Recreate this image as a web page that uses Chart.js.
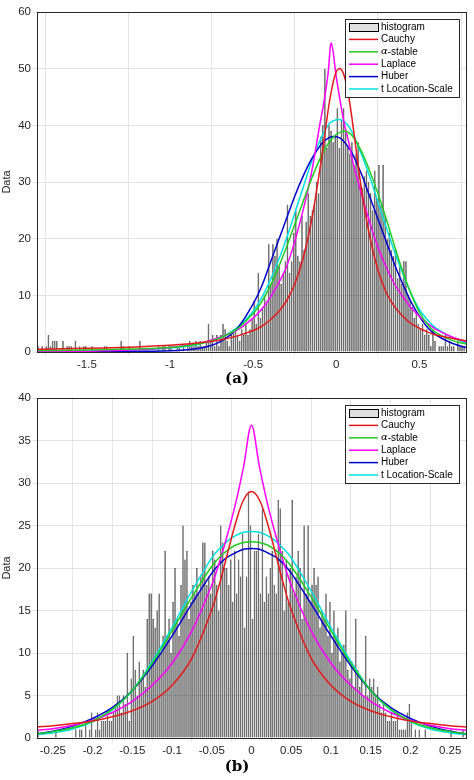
<!DOCTYPE html>
<html>
<head>
<meta charset="utf-8">
<script src="https://cdn.jsdelivr.net/npm/chart.js@4"></script>
<style>
  body { margin: 0; background: #fff; }
  #wrap { position: relative; width: 474px; height: 780px; }
  .pane { position: absolute; left: 0; width: 474px; height: 372px; }
  .cap { position: absolute; left: 0; width: 474px; text-align: center;
         font: bold 15px "DejaVu Serif", "Liberation Serif", serif; }
</style>
</head>
<body>
<div id="wrap">
  <div class="pane" style="top:0"><canvas id="chartA"></canvas></div>
  <div class="cap" style="top:369px">(a)</div>
  <div class="pane" style="top:386px"><canvas id="chartB"></canvas></div>
  <div class="cap" style="top:757px">(b)</div>
</div>
<script>
// ---- panel (a) ----
const binStartA = -1.8;
const binWidthA = 0.0125;
const countsA = [
  1,0,1,0,1,3,1,2,  2,2,0,0,2,0,1,1,  1,0,2,0,1,0,1,1,  0,0,1,0,0,0,0,0,
  1,1,0,0,0,0,0,0,  2,1,0,0,1,0,0,0,  0,2,0,0,0,0,0,0,  0,0,1,0,1,1,0,1,
  1,0,0,1,1,0,1,0,  1,2,1,1,2,1,2,1,  1,2,5,2,3,1,3,1,  3,5,4,2,1,3,4,4,
  3,2,4,3,5,3,4,6,  9,5,14,6,8,10,9,19,  12,19,17,20,15,12,14,16,  26,14,16,21,25,17,16,24,
  18,23,28,24,25,26,30,28,  38,40,50,36,40,39,37,38,  43,36,41,43,39,36,35,37,  33,35,37,30,29,31,32,30,
  28,25,32,27,33,26,33,24,  20,21,18,17,18,13,15,12,  16,16,10,9,8,6,7,5,  4,5,3,4,3,1,4,2,
  0,1,1,1,3,1,2,1,  1,0,2,1,1,1
];
const curveXA = [-1.8,-1.6,-1.4,-1.2,-1.0,-0.9,-0.8,-0.7,-0.6,-0.5,-0.45,-0.4,-0.35,-0.3,-0.25,-0.2,-0.15,-0.1,-0.075,-0.05,-0.03,0,0.025,0.05,0.075,0.1,0.15,0.2,0.25,0.3,0.35,0.4,0.45,0.5,0.55,0.6,0.7,0.78];
const cauchyA = [0.5,0.6,0.7,0.9,1.2,1.4,1.7,2.1,2.8,3.8,4.5,5.6,7.0,9.0,12,16.5,23,32,37,42.5,46,49.5,50,48.5,45,40,29,20.5,14.5,10.5,8,6.3,5,4.2,3.5,3.0,2.4,2.0];
const stableA = [0.25,0.3,0.4,0.55,0.8,1.1,1.6,2.5,4,6.8,8.8,11.5,14.8,18.5,22.5,26.5,30.5,34,35.5,36.7,37.5,38.4,38.8,39,38.7,38,35.5,32,28,23.5,18.7,14.2,10.2,7,4.8,3.4,2,1.4];
const laplaceA = [0.05,0.1,0.2,0.4,0.8,1.2,1.7,2.6,3.8,6,7.5,9.5,12,15,19.5,25,31.5,40,44,49,54.5,48.5,44,40,37,33.5,28,23,18.5,15,12,9.8,7.8,6.3,5,4,2.6,1.8];
const huberA = [0.02,0.03,0.05,0.1,0.2,0.4,0.8,1.8,4,8.5,11.5,15.5,19.5,23.5,27.5,31,34,36.3,37.2,37.7,38,38,37.7,37,36,34.8,31.5,27.5,23.5,19.5,15.5,12,8.8,6.3,4.3,3,1.5,0.8];
const tlsA = [0.1,0.15,0.2,0.35,0.7,1,1.6,2.5,4.2,7.2,9.5,12.5,16,20,24.5,29,33.5,37.2,38.8,40,40.6,41,41,40.6,39.8,38.5,35,31,26.5,22,17.7,13.8,10.3,7.5,5.6,4.2,2.5,1.6];

// ---- panel (b) ----
const binStartB = -0.27;
const binWidthB = 0.0025;
const countsB = [
  1,0,0,0,0,0,0,0,0,1,  0,0,0,0,0,0,0,0,0,1,  0,1,1,0,2,0,1,3,0,1,  3,1,2,2,2,3,2,2,3,4,
  5,5,3,5,4,10,2,7,12,8,  5,9,7,8,6,14,17,17,14,13,  15,17,10,12,22,12,14,10,16,20,  14,12,18,25,21,22,14,16,18,17,
  20,17,19,23,23,18,19,17,22,21,  18,15,25,23,20,20,18,21,16,22,  17,21,19,24,13,19,29,25,14,22,  22,24,17,27,16,19,17,20,22,18,
  17,28,27,22,15,21,16,20,28,17,  19,22,20,14,25,17,25,16,18,20,  18,19,13,15,14,17,12,16,10,15,  12,13,9,10,11,15,8,7,9,6,
  14,8,6,7,5,12,5,7,6,7,  5,6,4,3,4,3,2,2,3,2,  2,3,1,1,1,1,3,4,2,0,  1,0,1,0,0,1,0,0,0,0,
  0,0,0,0,0,0,0,0,1,0,  0,0,0,0,1,0
];
const curveXB = [-0.27,-0.25,-0.225,-0.2,-0.175,-0.15,-0.125,-0.1,-0.075,-0.05,-0.04,-0.03,-0.02,-0.01,0,0.01,0.02,0.03,0.04,0.05,0.075,0.1,0.125,0.15,0.175,0.2,0.225,0.25,0.27];
const cauchyB = [1.3,1.45,1.7,2.0,2.5,3.2,4.3,6.2,9.4,15.1,18.2,21.8,25.3,28,29,28,25.3,21.8,18.2,15.1,9.4,6.2,4.3,3.2,2.5,2.0,1.7,1.45,1.3];
const stableB = [0.5,0.75,1.2,2.0,3.4,5.6,8.8,12.6,16.6,20.2,21.3,22.1,22.7,23,23.1,23,22.7,22.1,21.3,20.2,16.6,12.6,8.8,5.6,3.4,2.0,1.2,0.75,0.5];
const laplaceB = [0.9,1.1,1.5,2.1,3.0,4.3,6.2,8.8,12.6,18,20.8,24,27.6,31.9,36.8,31.9,27.6,24,20.8,18,12.6,8.8,6.2,4.3,3.0,2.1,1.5,1.1,0.9];
const huberB = [0.5,0.8,1.4,2.3,3.6,5.6,8.5,12,15.8,19.4,20.5,21.3,21.8,22.2,22.3,22.2,21.8,21.3,20.5,19.4,15.8,12,8.5,5.6,3.6,2.3,1.4,0.8,0.5];
const tlsB = [0.4,0.6,1.05,1.9,3.3,5.6,9,13,17.3,21.2,22.3,23.2,23.8,24.2,24.3,24.2,23.8,23.2,22.3,21.2,17.3,13,9,5.6,3.3,1.9,1.05,0.6,0.4];

const legendLabels = ['histogram', 'Cauchy', '\u03b1-stable', 'Laplace', 'Huber', 't Location-Scale'];
const curveColors = ['#e31a1c', '#22cc22', '#ff00ff', '#0000cc', '#00e0e0'];
const FONT = '"Liberation Sans", Arial, sans-serif';

const frameLegend = {
  id: 'frameLegend',
  afterDatasetsDraw(chart) {
    const { ctx, chartArea: a } = chart;
    ctx.save();
    ctx.strokeStyle = '#262626';
    ctx.lineWidth = 1;
    ctx.strokeRect(a.left + 0.5, a.top + 0.5, a.right - a.left, a.bottom - a.top);
    // legend box
    const bx = a.right - 121, by = a.top + 7, bw = 114, bh = 78;
    ctx.fillStyle = '#fff';
    ctx.fillRect(bx, by, bw, bh);
    ctx.strokeStyle = '#262626';
    ctx.strokeRect(bx + 0.5, by + 0.5, bw, bh);
    ctx.font = '10px ' + FONT;
    ctx.textBaseline = 'middle';
    legendLabels.forEach((lab, i) => {
      const y = by + 8 + i * 12.4;
      if (i === 0) {
        ctx.fillStyle = '#e0e0e0';
        ctx.fillRect(bx + 4, y - 4, 29, 8);
        ctx.strokeStyle = '#000';
        ctx.strokeRect(bx + 4.5, y - 3.5, 29, 8);
      } else {
        ctx.strokeStyle = curveColors[i - 1];
        ctx.lineWidth = 1.5;
        ctx.beginPath();
        ctx.moveTo(bx + 4, y); ctx.lineTo(bx + 33, y);
        ctx.stroke();
        ctx.lineWidth = 1;
      }
      ctx.fillStyle = '#000';
      if (i === 2) {
        ctx.font = 'italic 10px "DejaVu Serif", serif';
        ctx.fillText('\u03b1', bx + 36, y);
        const w = ctx.measureText('\u03b1').width;
        ctx.font = '10px ' + FONT;
        ctx.fillText('-stable', bx + 36 + w, y);
      } else {
        ctx.fillText(lab, bx + 36, y);
      }
    });
    ctx.restore();
  }
};

function makeChart(id, binStart, binWidth, counts, cx, curves, xr, xStep, yMax, yStep, topPad) {
  const bars = counts.map((c, i) => ({ x: binStart + binWidth * (i + 0.5), y: c }));
  const lines = curves.map((ys, k) => ({
    type: 'line',
    data: ys.map((y, i) => ({ x: cx[i], y: y })),
    borderColor: curveColors[k],
    borderWidth: 1.5,
    pointRadius: 0,
    tension: 0.35,
    order: 1
  }));
  new Chart(document.getElementById(id), {
    type: 'bar',
    data: {
      datasets: [{
        data: bars,
        backgroundColor: '#555555',
        borderColor: '#000',
        borderWidth: 0.4,
        barPercentage: 1,
        categoryPercentage: 0.78,
        grouped: false,
        order: 10
      }].concat(lines)
    },
    options: {
      responsive: true,
      maintainAspectRatio: false,
      animation: false,
      layout: { padding: { left: 0, right: 8, top: topPad, bottom: 0 } },
      plugins: { legend: { display: false }, tooltip: { enabled: false } },
      scales: {
        x: {
          type: 'linear', min: xr[0], max: xr[1], offset: false,
          afterBuildTicks: s => {
            const t = [];
            for (let v = Math.ceil(xr[0] / xStep) * xStep; v <= xr[1] + 1e-9; v += xStep) t.push({ value: +v.toFixed(4) });
            s.ticks = t;
          },
          afterFit: s => { s.height = 20; },
          grid: { color: '#e3e3e3', tickLength: 4 },
          border: { display: false },
          ticks: { color: '#262626', font: { family: FONT, size: 11.5 }, maxRotation: 0, autoSkip: false, padding: 2,
                   callback: v => String(+v.toFixed(3)) }
        },
        y: {
          min: 0, max: yMax,
          afterFit: s => { s.width = 37; },
          grid: { color: '#e3e3e3', tickLength: 4 },
          border: { display: false },
          title: { display: true, text: 'Data', color: '#262626', font: { family: FONT, size: 11 }, padding: 0 },
          ticks: { stepSize: yStep, color: '#262626', font: { family: FONT, size: 11.5 }, padding: 2 }
        }
      }
    },
    plugins: [frameLegend]
  });
}

makeChart('chartA', binStartA, binWidthA, countsA, curveXA,
  [cauchyA, stableA, laplaceA, huberA, tlsA], [-1.8, 0.78], 0.5, 60, 10, 12);
makeChart('chartB', binStartB, binWidthB, countsB, curveXB,
  [cauchyB, stableB, laplaceB, huberB, tlsB], [-0.27, 0.27], 0.05, 40, 5, 12);
</script>
</body>
</html>
